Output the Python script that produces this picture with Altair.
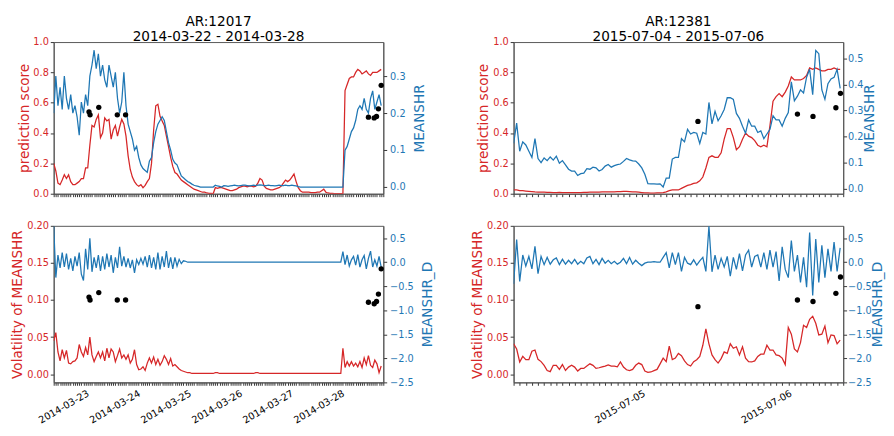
import altair as alt
import pandas as pd

FONT = "DejaVu Sans"
RED = "#d62728"
BLUE = "#1f77b4"

# ---------------- AR 12017 (left column), hourly samples ----------------
L_TITLE = ["AR:12017", "2014-03-22 - 2014-03-28"]
L_START = "2014-03-22 09:00"
L_END = "2014-03-28 20:00"
L_STEP_MIN = 60

left_pred = [
    0.20, 0.15, 0.07, 0.06, 0.09, 0.125, 0.10, 0.125, 0.08, 0.06,
    0.06, 0.07, 0.08, 0.10, 0.10, 0.17, 0.17, 0.32, 0.45, 0.44,
    0.49, 0.52, 0.37, 0.40, 0.50, 0.48, 0.49, 0.36, 0.42, 0.45,
    0.38, 0.44, 0.49, 0.46, 0.38, 0.25, 0.16, 0.11, 0.08, 0.06,
    0.05, 0.06, 0.04, 0.055, 0.08, 0.10, 0.20, 0.42, 0.58, 0.59,
    0.51, 0.48, 0.45, 0.38, 0.31, 0.24, 0.18, 0.14, 0.13, 0.11,
    0.09, 0.08, 0.07, 0.06, 0.05, 0.04, 0.03, 0.025, 0.02, 0.015,
    0.01, 0.01, 0.005, 0.003, 0.002, 0.0, 0.04, 0.035, 0.04, 0.04,
    0.035, 0.03, 0.025, 0.02, 0.02, 0.025, 0.03, 0.04, 0.045, 0.05,
    0.05, 0.045, 0.05, 0.05, 0.045, 0.05, 0.07, 0.10, 0.09, 0.05,
    0.035, 0.03, 0.025, 0.025, 0.03, 0.035, 0.04, 0.05, 0.07, 0.09,
    0.08, 0.09, 0.11, 0.13, 0.08, 0.04, 0.02, 0.01, 0.01, 0.01,
    0.01, 0.008, 0.008, 0.008, 0.01, 0.01, 0.02, 0.03, 0.01, 0.005,
    0.003, 0.002, 0.0, 0.0, 0.0, 0.0, 0.0, 0.68, 0.72, 0.76,
    0.77, 0.77, 0.80, 0.82, 0.81, 0.79, 0.80, 0.81, 0.79, 0.78,
    0.80, 0.80, 0.80, 0.81, 0.82,
]
left_meanshr = [
    0.20, 0.30, 0.22, 0.27, 0.21, 0.30, 0.24, 0.21, 0.25, 0.20,
    0.22, 0.19, 0.14, 0.23, 0.20, 0.25, 0.22, 0.30, 0.33, 0.37,
    0.32, 0.36, 0.30, 0.33, 0.29, 0.27, 0.33, 0.30, 0.27, 0.31,
    0.24, 0.20, 0.23, 0.31, 0.22, 0.17, 0.15, 0.13, 0.10, 0.11,
    0.08, 0.06, 0.05, 0.045, 0.04, 0.07, 0.08, 0.12, 0.15, 0.17,
    0.18, 0.19, 0.18, 0.15, 0.12, 0.10, 0.075, 0.065, 0.06, 0.045,
    0.03, 0.025, 0.02, 0.015, 0.012, 0.008, 0.005, 0.003, 0.002, 0.0,
    0.0, 0.0, 0.0, 0.0, 0.0, 0.0, 0.005, 0.003, 0.002, 0.0,
    0.004, 0.003, 0.002, 0.003, 0.004, 0.005, 0.004, 0.003, 0.004, 0.005,
    0.005, 0.004, 0.003, 0.004, 0.005, 0.004, 0.005, 0.006, 0.005, 0.004,
    0.004, 0.005, 0.004, 0.004, 0.003, 0.004, 0.005, 0.004, 0.004, 0.005,
    0.004, 0.004, 0.005, 0.004, 0.003, 0.001, 0.0, 0.0, 0.0, 0.0,
    0.0, 0.0, 0.0, 0.0, 0.0, 0.0, 0.0, 0.0, 0.0, 0.0,
    0.0, 0.0, 0.0, 0.0, 0.0, 0.0, 0.0, 0.10, 0.11, 0.13,
    0.15, 0.16, 0.18, 0.21, 0.22, 0.21, 0.24, 0.21, 0.20, 0.24,
    0.26, 0.21, 0.23, 0.25, 0.22,
]
left_vol = [
    0.045, 0.056, 0.030, 0.018, 0.033, 0.022, 0.032, 0.015, 0.014, 0.017,
    0.018, 0.022, 0.040, 0.030, 0.024, 0.036, 0.026, 0.050, 0.026, 0.017,
    0.024, 0.030, 0.022, 0.030, 0.018, 0.035, 0.022, 0.034, 0.030, 0.017,
    0.025, 0.034, 0.022, 0.026, 0.020, 0.026, 0.015, 0.020, 0.033, 0.013,
    0.006, 0.007, 0.010, 0.005, 0.015, 0.022, 0.015, 0.023, 0.013, 0.020,
    0.012, 0.017, 0.025, 0.020, 0.013, 0.021, 0.011, 0.013, 0.010, 0.007,
    0.005, 0.004, 0.003, 0.002, 0.002, 0.001, 0.001, 0.001, 0.001, 0.001,
    0.001, 0.001, 0.001, 0.001, 0.001, 0.001, 0.002, 0.002, 0.001, 0.001,
    0.001, 0.001, 0.001, 0.001, 0.001, 0.001, 0.001, 0.001, 0.001, 0.001,
    0.001, 0.001, 0.001, 0.001, 0.001, 0.002, 0.002, 0.001, 0.001, 0.001,
    0.001, 0.001, 0.001, 0.001, 0.001, 0.001, 0.001, 0.001, 0.001, 0.001,
    0.001, 0.001, 0.001, 0.001, 0.001, 0.001, 0.001, 0.001, 0.001, 0.001,
    0.001, 0.001, 0.001, 0.001, 0.001, 0.001, 0.001, 0.001, 0.001, 0.001,
    0.001, 0.001, 0.001, 0.001, 0.001, 0.001, 0.035, 0.009, 0.017, 0.011,
    0.017, 0.011, 0.015, 0.010, 0.017, 0.009, 0.022, 0.013, 0.025, 0.012,
    0.009, 0.019, 0.014, 0.002, 0.011,
]
left_meanshr_d = [
    0.75, -0.32, 0.15, -0.12, 0.20, -0.10, 0.18, -0.15, 0.08, -0.18,
    0.12, -0.08, 0.20, -0.25, -0.38, 0.28, -0.15, 0.50, -0.20, 0.10,
    -0.12, 0.15, -0.18, 0.12, -0.15, 0.18, -0.10, 0.15, -0.22, 0.10,
    -0.12, 0.32, -0.08, 0.12, -0.10, 0.08, -0.12, 0.05, -0.22, 0.05,
    -0.05, 0.08, -0.04, 0.12, -0.10, 0.15, -0.12, 0.10, -0.15, 0.20,
    -0.15, 0.12, -0.10, 0.23, -0.12, 0.10, -0.14, 0.10, -0.08, 0.06,
    -0.03, 0.03, 0.02, 0.0, 0.0, 0.0, 0.0, 0.0, 0.0, 0.0,
    0.0, 0.0, 0.0, 0.0, 0.0, 0.0, 0.0, 0.0, 0.0, 0.0,
    0.0, 0.0, 0.0, 0.0, 0.0, 0.0, 0.0, 0.0, 0.0, 0.0,
    0.0, 0.0, 0.0, 0.0, 0.0, 0.0, 0.0, 0.0, 0.0, 0.0,
    0.0, 0.0, 0.0, 0.0, 0.0, 0.0, 0.0, 0.0, 0.0, 0.0,
    0.0, 0.0, 0.0, 0.0, 0.0, 0.0, 0.0, 0.0, 0.0, 0.0,
    0.0, 0.0, 0.0, 0.0, 0.0, 0.0, 0.0, 0.0, 0.0, 0.0,
    0.0, 0.0, 0.0, 0.0, 0.0, 0.0, 0.22, -0.05, 0.15, -0.08,
    0.05, 0.12, -0.06, 0.16, -0.10, 0.05, 0.14, -0.14, 0.08, 0.23,
    -0.10, 0.05, -0.08, 0.12, -0.10,
]
left_event_hours = [16.6, 17.1, 21.2, 29.9, 33.8, 148.0, 150.7, 151.8, 152.7, 154.0]
left_event_score = [0.54, 0.52, 0.57, 0.52, 0.52, 0.505, 0.50, 0.51, 0.56, 0.715]
left_event_vol = [0.104, 0.100, 0.110, 0.100, 0.100, 0.097, 0.095, 0.098, 0.108, 0.142]

# ---------------- AR 12381 (right column), half-hourly samples ----------------
R_TITLE = ["AR:12381", "2015-07-04 - 2015-07-06"]
R_START = "2015-07-04 03:00"
R_END = "2015-07-06 09:00"
R_STEP_MIN = 30

right_pred = [
    0.025, 0.025, 0.020, 0.020, 0.018, 0.016, 0.014, 0.012, 0.011, 0.010,
    0.010, 0.009, 0.009, 0.008, 0.008, 0.009, 0.008, 0.008, 0.007, 0.007,
    0.008, 0.008, 0.008, 0.009, 0.009, 0.010, 0.010, 0.011, 0.011, 0.012,
    0.012, 0.012, 0.013, 0.013, 0.014, 0.014, 0.015, 0.015, 0.014, 0.013,
    0.012, 0.010, 0.008, 0.006, 0.005, 0.004, 0.004, 0.005, 0.006, 0.008,
    0.012, 0.020, 0.025, 0.026, 0.025, 0.035, 0.045, 0.055, 0.060, 0.068,
    0.072, 0.085, 0.11, 0.17, 0.24, 0.25, 0.24, 0.24, 0.27, 0.36,
    0.43, 0.43, 0.37, 0.29, 0.31, 0.36, 0.40, 0.38, 0.37, 0.35,
    0.32, 0.31, 0.32, 0.31, 0.45, 0.61, 0.64, 0.66, 0.64, 0.67,
    0.71, 0.77, 0.75, 0.75, 0.75, 0.76, 0.78, 0.83, 0.82, 0.83,
    0.82, 0.81, 0.81, 0.82, 0.82, 0.83, 0.82, 0.82,
]
right_meanshr = [
    0.174, 0.252, 0.144, 0.180, 0.168, 0.144, 0.120, 0.192, 0.116, 0.100,
    0.118, 0.108, 0.122, 0.110, 0.125, 0.098, 0.108, 0.092, 0.075, 0.068,
    0.068, 0.051, 0.058, 0.060, 0.077, 0.075, 0.083, 0.080, 0.068, 0.074,
    0.087, 0.093, 0.083, 0.089, 0.093, 0.095, 0.105, 0.116, 0.111, 0.107,
    0.106, 0.095, 0.080, 0.056, 0.020, 0.019, 0.019, 0.018, 0.019, 0.007,
    0.041, 0.041, 0.114, 0.120, 0.120, 0.192, 0.180, 0.228, 0.210, 0.216,
    0.213, 0.174, 0.216, 0.210, 0.331, 0.249, 0.297, 0.261, 0.280, 0.304,
    0.349, 0.349, 0.343, 0.289, 0.270, 0.240, 0.213, 0.264, 0.240, 0.240,
    0.216, 0.222, 0.192, 0.210, 0.228, 0.280, 0.264, 0.264, 0.240, 0.270,
    0.292, 0.410, 0.337, 0.355, 0.379, 0.367, 0.428, 0.458, 0.361, 0.530,
    0.518, 0.379, 0.343, 0.403, 0.421, 0.427, 0.458, 0.385,
]
right_vol = [
    0.041, 0.034, 0.0165, 0.024, 0.0196, 0.0196, 0.031, 0.0326, 0.020, 0.017,
    0.012, 0.005, 0.0035, 0.012, 0.012, 0.0065, 0.013, 0.005, 0.0096, 0.012,
    0.0096, 0.0043, 0.0078, 0.0078, 0.011, 0.014, 0.012, 0.0078, 0.0087, 0.010,
    0.011, 0.0126, 0.011, 0.011, 0.010, 0.0165, 0.0096, 0.006, 0.005, 0.0065,
    0.012, 0.015, 0.013, 0.0043, 0.0026, 0.003, 0.0048, 0.0065, 0.0139, 0.0217,
    0.017, 0.038, 0.0196, 0.0217, 0.028, 0.025, 0.018, 0.013, 0.011, 0.017,
    0.0196, 0.024, 0.039, 0.061, 0.041, 0.026, 0.0196, 0.015, 0.021, 0.030,
    0.028, 0.041, 0.035, 0.037, 0.026, 0.037, 0.0217, 0.017, 0.0165, 0.018,
    0.024, 0.027, 0.027, 0.039, 0.0326, 0.0326, 0.026, 0.025, 0.0217, 0.013,
    0.063, 0.054, 0.034, 0.030, 0.0426, 0.066, 0.063, 0.074, 0.078, 0.0687,
    0.053, 0.054, 0.065, 0.0426, 0.053, 0.052, 0.041, 0.046,
]
right_meanshr_d = [
    -0.45, 0.47, -0.40, 0.15, -0.08, 0.12, -0.14, 0.33, -0.24, 0.12,
    -0.05, 0.10, -0.04, 0.05, 0.09, -0.05, 0.06, -0.04, 0.04, -0.03,
    0.06, -0.04, 0.02, -0.03, 0.09, 0.12, -0.03, 0.06, -0.05, 0.08,
    -0.02, 0.04, -0.03, 0.02, -0.04, 0.00, 0.08, -0.03, 0.10, -0.04,
    0.04, -0.02, -0.07, -0.02, 0.00, 0.00, 0.01, 0.00, 0.00, 0.10,
    0.20, -0.12, 0.20, -0.05, 0.20, -0.19, 0.10, -0.02, -0.05, 0.05,
    -0.06, 0.03, 0.10, -0.19, 0.75, -0.20, 0.15, -0.15, 0.08, -0.10,
    0.12, -0.29, 0.10, -0.15, 0.18, -0.18, 0.15, 0.25, -0.10, 0.12,
    0.15, -0.10, 0.20, -0.15, 0.25, -0.10, 0.22, -0.39, 0.32, -0.15,
    -0.32, 0.45, -0.19, 0.15, -0.42, 0.10, -0.52, 0.62, -0.69, 0.48,
    -0.42, 0.35, -0.32, 0.28, -0.19, 0.42, -0.19, 0.30,
]
right_event_hours = [30.2, 46.5, 49.05, 52.8, 53.55]
right_event_score = [0.477, 0.525, 0.51, 0.567, 0.662]
right_event_vol = [0.091, 0.100, 0.098, 0.109, 0.131]

# axis ranges
PRED_DOMAIN = [0.0, 1.0]
PRED_TICKS = [0.0, 0.2, 0.4, 0.6, 0.8, 1.0]
L_MEANSHR_DOMAIN = [-0.018, 0.392]
L_MEANSHR_TICKS = [0.0, 0.1, 0.2, 0.3]
R_MEANSHR_DOMAIN = [-0.019, 0.5625]
R_MEANSHR_TICKS = [0.0, 0.1, 0.2, 0.3, 0.4, 0.5]
VOL_DOMAIN = [-0.011, 0.2]
VOL_TICKS = [0.0, 0.05, 0.10, 0.15, 0.20]
D_DOMAIN = [-2.5, 0.757]
D_TICKS = [0.5, 0.0, -0.5, -1.0, -1.5, -2.0, -2.5]

W = 339
H_TOP = 156
H_BOT = 161


def to_ms(ts):
    return int(ts.timestamp() * 1000)


def series_frame(start, step_min, pred, meanshr, vol, dmean):
    t0 = pd.Timestamp(start, tz="UTC")
    times = [to_ms(t0 + pd.Timedelta(minutes=step_min * i)) for i in range(len(pred))]
    return pd.DataFrame({"t": times, "pred": pred, "meanshr": meanshr,
                         "vol": vol, "dmean": dmean})


def event_frame(start, hours, score, vol):
    t0 = pd.Timestamp(start, tz="UTC")
    times = [to_ms(t0 + pd.Timedelta(hours=h)) for h in hours]
    return pd.DataFrame({"t": times, "pred": score, "vol": vol})


def hour_ticks(start, end):
    t0 = pd.Timestamp(start, tz="UTC")
    t1 = pd.Timestamp(end, tz="UTC")
    out = []
    t = t0
    while t <= t1:
        out.append(to_ms(t))
        t = t + pd.Timedelta(hours=1)
    return out


def x_enc(start, end, show_labels):
    axis = alt.Axis(
        title=None, grid=False, labels=show_labels,
        values=hour_ticks(start, end),
        labelExpr="utchours(datum.value) == 0 ? utcFormat(datum.value, '%Y-%m-%d') : ''",
        labelAngle=330, labelAlign="right", labelBaseline="top",
        labelFlush=False, labelOverlap=False, labelPadding=3,
        labelFontSize=10, labelColor="black",
        tickSize=3, tickColor="#333", domainColor="#555",
    )
    t0 = to_ms(pd.Timestamp(start, tz="UTC"))
    t1 = to_ms(pd.Timestamp(end, tz="UTC"))
    return alt.X("t:T", scale=alt.Scale(type="utc", domain=[t0, t1], nice=False), axis=axis)


def y_left(field, title, domain, ticks, fmt):
    return alt.Y(f"{field}:Q", scale=alt.Scale(domain=domain, nice=False, zero=False),
                 axis=alt.Axis(title=title, values=ticks, format=fmt, orient="left", grid=False,
                               labelColor=RED, titleColor=RED, tickSize=3.5, labelPadding=2,
                               titlePadding=2, labelFontSize=10, titleFontSize=14,
                               tickColor="#333", domainColor="#555"))


def y_right(field, title, domain, ticks, fmt, lpad, tpad):
    return alt.Y(f"{field}:Q", scale=alt.Scale(domain=domain, nice=False, zero=False),
                 axis=alt.Axis(title=title, values=ticks, format=fmt, orient="right", grid=False,
                               labelColor=BLUE, titleColor=BLUE, tickSize=3.5, labelPadding=lpad,
                               titlePadding=tpad, labelFontSize=10, titleFontSize=14,
                               titleAngle=270, titleBaseline="top",
                               tickColor="#333", domainColor="#555"))


def panel(df, ev, start, end, show_labels, lfield, ltitle, ldom, lticks, lfmt,
          rfield, rtitle, rdom, rticks, rfmt, height, lpad, tpad):
    x = x_enc(start, end, show_labels)
    red = alt.Chart(df).mark_line(color=RED, strokeWidth=1.3, clip=True).encode(
        x=x, y=y_left(lfield, ltitle, ldom, lticks, lfmt))
    blue = alt.Chart(df).mark_line(color=BLUE, strokeWidth=1.3, clip=True).encode(
        x=x, y=y_right(rfield, rtitle, rdom, rticks, rfmt, lpad, tpad))
    dots = alt.Chart(ev).mark_circle(color="black", size=30, opacity=1).encode(
        x=x, y=alt.Y(f"{lfield}:Q", scale=alt.Scale(domain=ldom, nice=False, zero=False), axis=None))
    return alt.layer(red, blue, dots).resolve_scale(y="independent").properties(width=W, height=height)


def column(title, start, end, step, pred, meanshr, vol, dmean, ev_h, ev_s, ev_v,
           m_dom, m_ticks, lpad, tpad):
    df = series_frame(start, step, pred, meanshr, vol, dmean)
    ev = event_frame(start, ev_h, ev_s, ev_v)
    top = panel(df, ev, start, end, False, "pred", "prediction score", PRED_DOMAIN, PRED_TICKS, ".1f",
                "meanshr", "MEANSHR", m_dom, m_ticks, ".1f", H_TOP, lpad, tpad).properties(
        title=alt.TitleParams(text=title, fontSize=14, fontWeight="normal",
                              anchor="middle", frame="group", lineHeight=16, offset=-7,
                              color="black"))
    bot = panel(df, ev, start, end, True, "vol", "Volatility of MEANSHR", VOL_DOMAIN, VOL_TICKS, ".2f",
                "dmean", "MEANSHR_D", D_DOMAIN, D_TICKS, ".1f", H_BOT, lpad, tpad)
    return top, bot


left_top, left_bot = column(L_TITLE, L_START, L_END, L_STEP_MIN, left_pred, left_meanshr, left_vol,
                            left_meanshr_d, left_event_hours, left_event_score, left_event_vol,
                            L_MEANSHR_DOMAIN, L_MEANSHR_TICKS, 3, 8)
right_top, right_bot = column(R_TITLE, R_START, R_END, R_STEP_MIN, right_pred, right_meanshr, right_vol,
                              right_meanshr_d, right_event_hours, right_event_score, right_event_vol,
                              R_MEANSHR_DOMAIN, R_MEANSHR_TICKS, 1, 0)

chart = alt.concat(
    left_top, right_top, left_bot, right_bot,
    columns=2, spacing={"row": 33, "column": 134}, bounds="flush",
).properties(
    padding={"left": 2, "top": 0, "right": 0, "bottom": 0}
).configure_view(
    stroke="#555", strokeWidth=1
).configure_axis(
    labelFont=FONT, titleFont=FONT, titleFontWeight="normal"
).configure_title(font=FONT)

chart.save("out.html", embed_options={"renderer": "svg", "actions": False})
